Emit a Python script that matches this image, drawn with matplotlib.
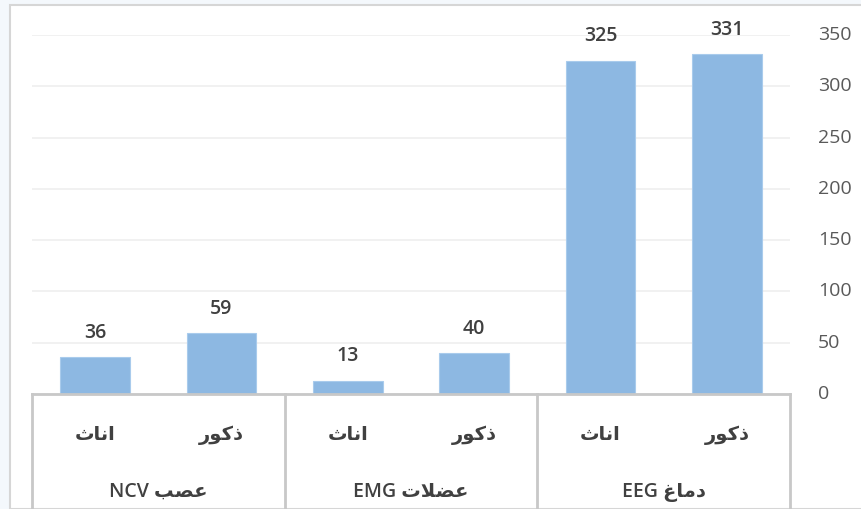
import matplotlib
matplotlib.use("Agg")
import matplotlib.pyplot as plt
import matplotlib.transforms as mtransforms
from matplotlib.patches import Rectangle
from matplotlib.lines import Line2D

# ---- data ----
group_ar = ["عصب", "عضلات", "دماغ"]
group_en = ["NCV", "EMG", "EEG"]
sub_labels = ["اناث", "ذكور"]
values = [36, 59, 13, 40, 325, 331]
yticks = [0, 50, 100, 150, 200, 250, 300, 350]

# ---- minimal Arabic shaping (matplotlib has no shaping/bidi) ----
FORMS = {
    "ا": (0xFE8D, 0xFE8E, None, None),
    "ب": (0xFE8F, 0xFE90, 0xFE91, 0xFE92),
    "ت": (0xFE95, 0xFE96, 0xFE97, 0xFE98),
    "ث": (0xFE99, 0xFE9A, 0xFE9B, 0xFE9C),
    "د": (0xFEA9, 0xFEAA, None, None),
    "ذ": (0xFEAB, 0xFEAC, None, None),
    "ر": (0xFEAD, 0xFEAE, None, None),
    "ص": (0xFEB9, 0xFEBA, 0xFEBB, 0xFEBC),
    "ض": (0xFEBD, 0xFEBE, 0xFEBF, 0xFEC0),
    "ع": (0xFEC9, 0xFECA, 0xFECB, 0xFECC),
    "غ": (0xFECD, 0xFECE, 0xFECF, 0xFED0),
    "ك": (0xFED9, 0xFEDA, 0xFEDB, 0xFEDC),
    "ل": (0xFEDD, 0xFEDE, 0xFEDF, 0xFEE0),
    "م": (0xFEE1, 0xFEE2, 0xFEE3, 0xFEE4),
    "ن": (0xFEE5, 0xFEE6, 0xFEE7, 0xFEE8),
    "و": (0xFEED, 0xFEEE, None, None),
    "ﻻ": (0xFEFB, 0xFEFC, None, None),
}


def shape(word):
    word = word.replace("لا", "ﻻ")
    out = []
    n = len(word)
    for i, ch in enumerate(word):
        f = FORMS[ch]
        prev_joins = i > 0 and FORMS[word[i - 1]][2] is not None
        next_joins = i < n - 1 and f[2] is not None
        if prev_joins and next_joins:
            cp = f[3]
        elif prev_joins:
            cp = f[1]
        elif next_joins:
            cp = f[2]
        else:
            cp = f[0]
        out.append(chr(cp))
    return "".join(reversed(out))


FONT = ["Open Sans", "DejaVu Sans"]
plt.rcParams["font.family"] = FONT

W, H = 862, 510
fig = plt.figure(figsize=(W / 100, H / 100), dpi=100)
fig.patch.set_facecolor("#F4F8FC")

# white chart frame
frame = Rectangle((10 / W, 0), 1, 1 - 6 / H, transform=fig.transFigure,
                  facecolor="white", edgecolor="#D6D6D6", linewidth=1.5, zorder=-5)
fig.patches.append(frame)

x0, x1 = 32, 790
y0, y1 = 395, 36
ax = fig.add_axes([x0 / W, 1 - y0 / H, (x1 - x0) / W, (y0 - y1) / H])
ax.set_zorder(2)
ax.set_facecolor("none")

n = len(values)
xs = list(range(n))
ax.bar(xs, values, width=0.55, color="#8DB8E2", edgecolor="#A9CBEC", linewidth=0.8, zorder=3)
for x, v in zip(xs, values):
    ax.annotate(str(v), (x, v), xytext=(0, 11), textcoords="offset points",
                ha="center", va="bottom", fontsize=14, fontweight="semibold",
                color="#404040", clip_on=False)

ax.set_xlim(-0.5, n - 0.5)
ax.set_ylim(0, 350)
ax.set_yticks(yticks)
ax.yaxis.tick_right()
ax.tick_params(axis="y", length=0, pad=20, labelsize=14, labelcolor="#595959")
shift = mtransforms.ScaledTranslation(0, 3 / 100, fig.dpi_scale_trans)
for lab in ax.get_yticklabels():
    lab.set_verticalalignment("center_baseline")
    lab.set_transform(lab.get_transform() + shift)
ax.tick_params(axis="x", length=0, labelbottom=False)
ax.grid(axis="y", color="#EFEFEF", linewidth=1.2, zorder=0)
for s in ["top", "right", "left"]:
    ax.spines[s].set_visible(False)
ax.spines["bottom"].set_color("#C8C8C8")
ax.spines["bottom"].set_linewidth(2)
ax.spines["bottom"].set_zorder(4)

# multi-level category axis
trans = ax.get_xaxis_transform()
for b in [-0.5, 1.5, 3.5, 5.5]:
    ax.add_line(Line2D([b, b], [0, -0.5], transform=trans, color="#C8C8C8",
                       linewidth=2, clip_on=False))
sub_y = -(435 - y0) / (y0 - y1)
grp_y = -(492 - y0) / (y0 - y1)
for i, x in enumerate(xs):
    ax.text(x, sub_y, shape(sub_labels[i % 2]), transform=trans, ha="center",
            va="center", fontsize=14, color="#404040", family=FONT,
            fontweight="semibold")
for g in range(3):
    label = group_en[g] + " " + shape(group_ar[g])
    ax.text(2 * g + 0.5, grp_y, label, transform=trans, ha="center",
            va="center", fontsize=14, color="#404040", family=FONT,
            fontweight="semibold")

fig.savefig("out.png", dpi=100, facecolor=fig.get_facecolor())
